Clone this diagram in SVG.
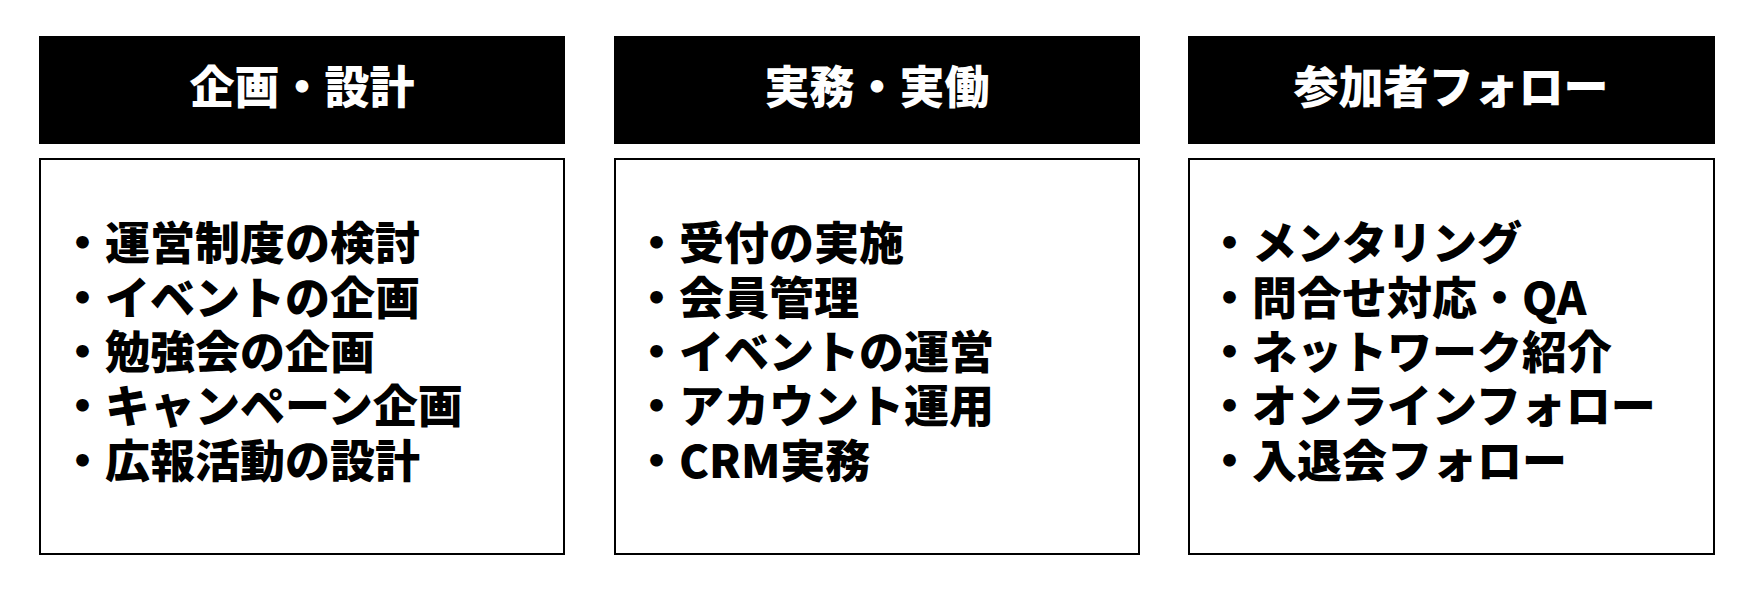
<svg xmlns="http://www.w3.org/2000/svg" width="1762" height="592" viewBox="0 0 1762 592">
<style>
.h{fill:#000}
.b{fill:#fff;stroke:#000;stroke-width:2}
.ht{fill:#fff;font-family:"Noto Sans CJK JP",sans-serif;font-weight:900;font-size:45px;text-anchor:middle}
.t{fill:#000;font-family:"Noto Sans CJK JP",sans-serif;font-weight:900;font-size:45px}
</style>
<rect width="1762" height="592" fill="#fff"/>
<g id="col1">
<rect class="h" x="39" y="36" width="526" height="108"/>
<text class="ht" x="302" y="104">企画・設計</text>
<rect class="b" x="40" y="159" width="524" height="395"/>
<text class="t" x="60" y="260">・運営制度の検討</text>
<text class="t" x="60" y="315">・イベントの企画</text>
<text class="t" x="60" y="369">・勉強会の企画</text>
<text class="t" x="60" y="423">・キャンペーン企画</text>
<text class="t" x="60" y="478">・広報活動の設計</text>
</g>
<g id="col2">
<rect class="h" x="614" y="36" width="526" height="108"/>
<text class="ht" x="877" y="104">実務・実働</text>
<rect class="b" x="615" y="159" width="524" height="395"/>
<text class="t" x="634" y="260">・受付の実施</text>
<text class="t" x="634" y="315">・会員管理</text>
<text class="t" x="634" y="369">・イベントの運営</text>
<text class="t" x="634" y="423">・アカウント運用</text>
<text class="t" x="634" y="478">・CRM実務</text>
</g>
<g id="col3">
<rect class="h" x="1188" y="36" width="527" height="108"/>
<text class="ht" x="1451" y="104">参加者フォロー</text>
<rect class="b" x="1189" y="159" width="525" height="395"/>
<text class="t" x="1207" y="260">・メンタリング</text>
<text class="t" x="1207" y="315">・問合せ対応・QA</text>
<text class="t" x="1207" y="369">・ネットワーク紹介</text>
<text class="t" x="1207" y="423">・オンラインフォロー</text>
<text class="t" x="1207" y="478">・入退会フォロー</text>
</g>
<g id="connectors"/>
</svg>
